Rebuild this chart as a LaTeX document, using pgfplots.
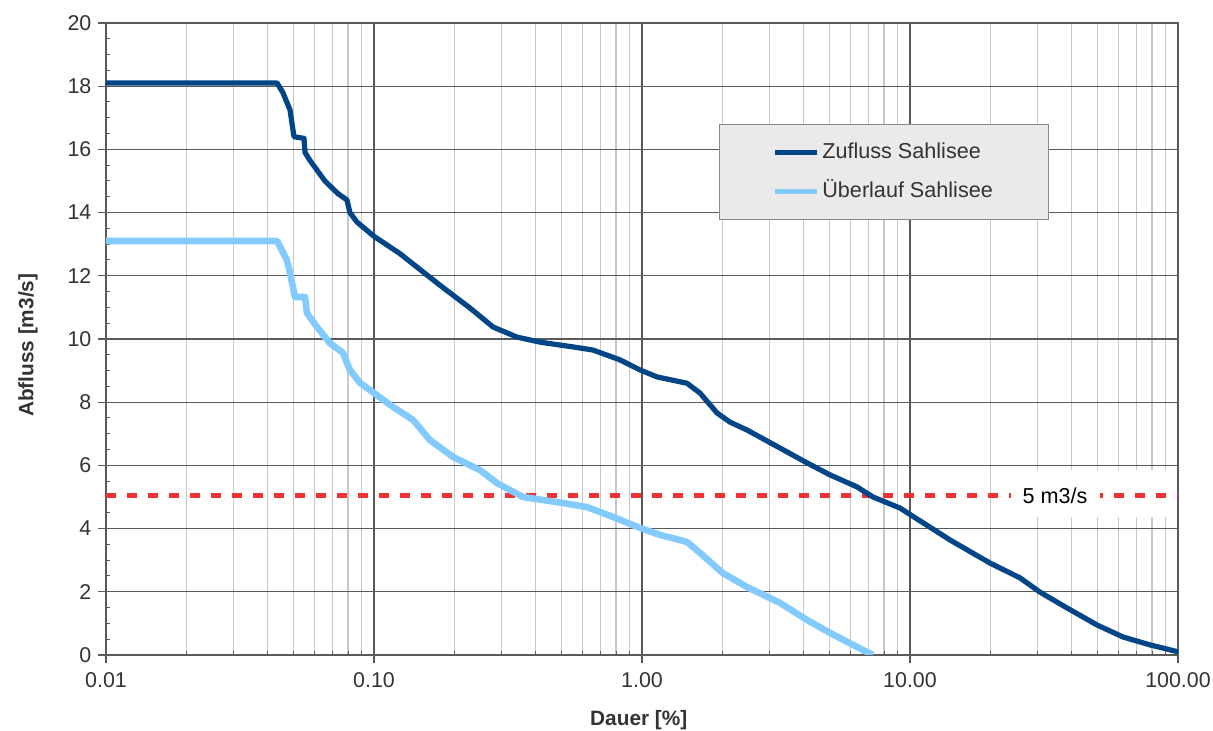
\documentclass[border=0pt]{standalone}
\usepackage{fontspec}
\setmainfont{Liberation Sans}
\usepackage{pgfplots}
\pgfplotsset{compat=1.18}
\definecolor{zufluss}{HTML}{004586}
\definecolor{ueberlauf}{HTML}{83CAFF}
\definecolor{limitred}{HTML}{F03232}
\definecolor{majgrid}{HTML}{5A5A5A}
\definecolor{mingrid}{HTML}{C8C8C8}
\definecolor{txt}{HTML}{333333}
\definecolor{leggray}{HTML}{EAEAEA}
\definecolor{legborder}{HTML}{8C8C8C}

\begin{document}
\begin{tikzpicture}
\path[use as bounding box] (-53pt,-38pt) rectangle (553.5pt,327.5pt);
\begin{axis}[
  at={(0,0)}, anchor=south west,
  scale only axis, width=536pt, height=316pt,
  xmode=log, xmin=0.01, xmax=100, ymin=0, ymax=20,
  xtick={0.01,0.1,1,10,100},
  xticklabels={0.01,0.10,1.00,10.00,100.00},
  ytick={0,2,...,20}, minor y tick num=3,
  xmajorgrids=true, xminorgrids=true, ymajorgrids=true, yminorgrids=false,
  major grid style={majgrid, line width=0.6pt},
  minor grid style={mingrid, line width=0.6pt},
  axis line style={majgrid, line width=0.7pt},
  tick pos=left,
  tick align=outside,
  major tick length=3.8pt,
  minor tick length=-2pt,
  major tick style={majgrid, line width=0.6pt},
  minor tick style={majgrid, line width=0.5pt},
  /pgf/number format/assume math mode=true,
  tick label style={font=\fontsize{10.7}{12}\selectfont, text=txt},
  xticklabel style={yshift=-1.5pt},
  label style={font=\fontsize{10.4}{12}\selectfont\bfseries, text=txt},
  xlabel={Dauer [\%]},
  ylabel={Abfluss [m3/s]},
  xlabel style={at={(axis description cs:0.497,0)}, anchor=center, yshift=-32.5pt},
  ylabel style={at={(axis description cs:-0.0728,0.49)}, anchor=center},
  legend cell align=left,
  legend image code/.code={\draw[#1, line width=2.3pt] (0pt,0pt) -- (21pt,0pt);},
  legend style={at={(axis description cs:0.572,0.840)}, anchor=north west,
    fill=leggray, draw=legborder, line width=0.6pt,
    inner xsep=26.5pt, inner ysep=8pt, row sep=8pt,
    font=\fontsize{10.8}{12}\selectfont, text=txt,
    nodes={text height=7.8pt, text depth=1.8pt, inner ysep=1pt, inner xsep=1.5pt}},
]
% white text box behind the limit label
\fill[white] (axis cs:24.65,4.37) rectangle (axis cs:93.3,5.85);
\addplot[limitred, line width=2.3pt, dash pattern=on 5pt off 5.5pt, forget plot]
  coordinates {(0.01,5.05) (100,5.05)};
\node[fill=white, inner xsep=6pt, inner ysep=2pt, text=black,
  font=\fontsize{10.8}{12}\selectfont] at (axis cs:34.8,5.05) {5 m3/s};

\addplot[zufluss, line width=2.6pt, line join=round] coordinates {
(0.01,18.1) (0.0435,18.1) (0.0457,17.8) (0.0486,17.25) (0.0503,16.4)
(0.0548,16.35) (0.0553,15.9) (0.0577,15.65) (0.0656,15.0) (0.0734,14.6)
(0.0793,14.4) (0.0813,14.0) (0.0864,13.7) (0.1,13.25) (0.125,12.7)
(0.1763,11.7) (0.2282,10.98) (0.278,10.38) (0.3417,10.06) (0.4163,9.9)
(0.5527,9.75) (0.6566,9.65) (0.8279,9.34) (0.983,9.02) (1.138,8.8)
(1.472,8.6) (1.646,8.29) (1.905,7.66) (2.13,7.37) (2.465,7.12)
(3.272,6.55) (4.127,6.08) (5.029,5.70) (6.342,5.32) (7.276,5.0)
(9.178,4.65) (14.1,3.64) (19.89,2.91) (25.73,2.44) (30.55,1.99)
(38.53,1.49) (49.87,0.95) (62.35,0.57) (78.62,0.32) (100,0.1)
};
\addlegendentry{Zufluss Sahlisee}

\addplot[ueberlauf, line width=3.3pt, line join=round] coordinates {
(0.01,13.1) (0.0435,13.1) (0.0473,12.5) (0.0486,12.09) (0.0507,11.33)
(0.0553,11.33) (0.0562,10.82) (0.0613,10.38) (0.0685,9.87) (0.0766,9.56)
(0.0813,9.02) (0.0887,8.61) (0.1,8.29) (0.1177,7.85) (0.1398,7.44)
(0.1618,6.80) (0.1971,6.27) (0.2486,5.85) (0.2877,5.44) (0.3597,5.0)
(0.5072,4.81) (0.6233,4.68) (0.7792,4.37) (0.983,4.02) (1.167,3.80)
(1.472,3.58) (1.646,3.23) (2.005,2.59) (2.465,2.15) (3.272,1.65)
(4.127,1.11) (5.029,0.70) (6.129,0.32) (7.276,0.0)
};
\addlegendentry{Überlauf Sahlisee}
\end{axis}
\end{tikzpicture}
\end{document}
